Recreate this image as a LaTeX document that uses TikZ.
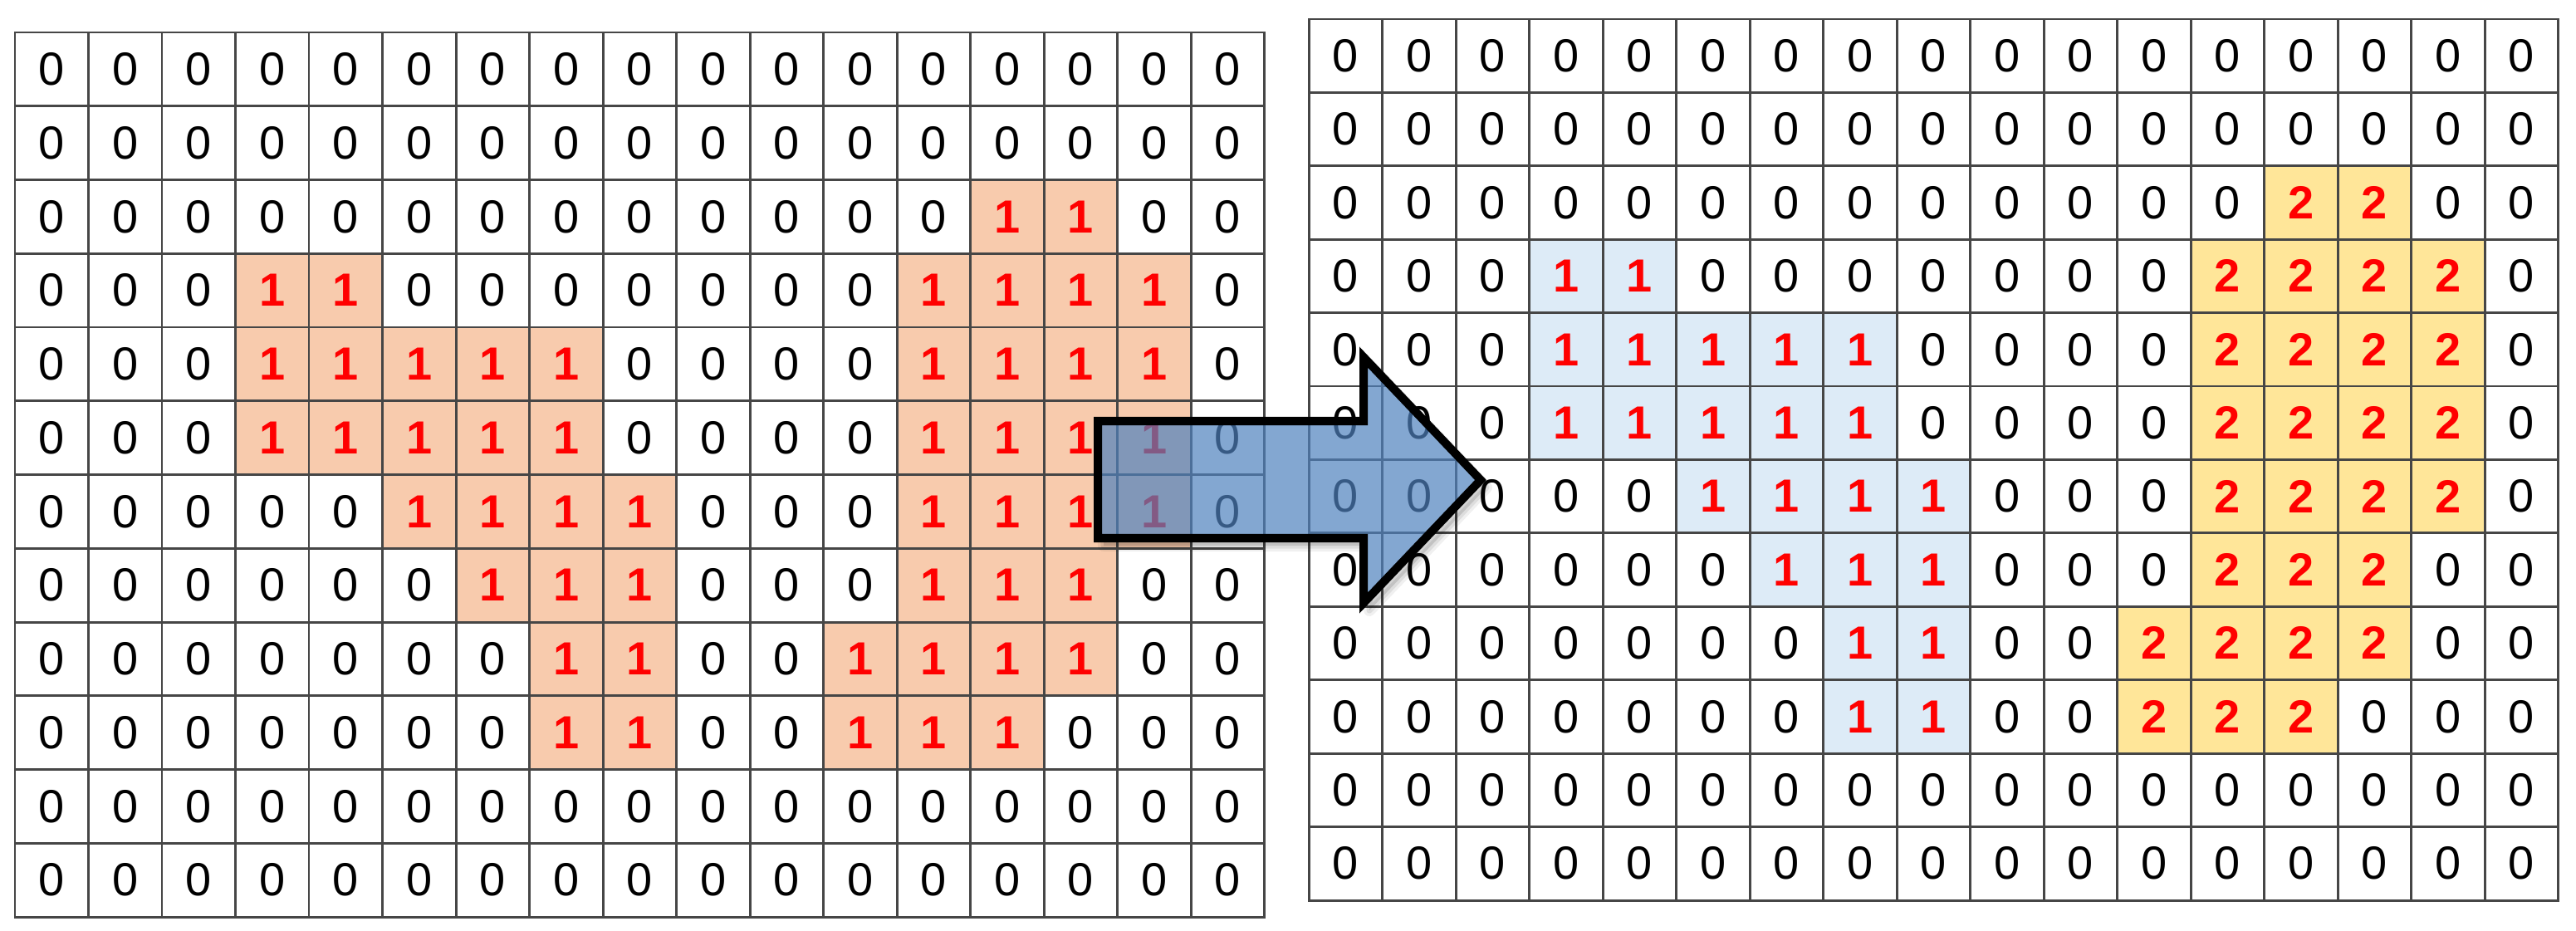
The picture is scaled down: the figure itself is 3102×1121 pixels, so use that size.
\documentclass[tikz,border=0pt]{standalone}
\usepackage{fontspec}
\setmainfont{Liberation Sans}
\definecolor{cellorange}{RGB}{248,203,173}
\definecolor{cellblue}{RGB}{221,235,247}
\definecolor{cellyellow}{RGB}{255,230,153}
\definecolor{gridgray}{RGB}{70,70,70}
\definecolor{arrowblue}{RGB}{79,129,189}
\definecolor{labelred}{RGB}{255,0,0}
\def\griddata{%
{0,0,0,0,0,0,0,0,0,0,0,0,0,0,0,0,0},%
{0,0,0,0,0,0,0,0,0,0,0,0,0,0,0,0,0},%
{0,0,0,0,0,0,0,0,0,0,0,0,0,2,2,0,0},%
{0,0,0,1,1,0,0,0,0,0,0,0,2,2,2,2,0},%
{0,0,0,1,1,1,1,1,0,0,0,0,2,2,2,2,0},%
{0,0,0,1,1,1,1,1,0,0,0,0,2,2,2,2,0},%
{0,0,0,0,0,1,1,1,1,0,0,0,2,2,2,2,0},%
{0,0,0,0,0,0,1,1,1,0,0,0,2,2,2,0,0},%
{0,0,0,0,0,0,0,1,1,0,0,2,2,2,2,0,0},%
{0,0,0,0,0,0,0,1,1,0,0,2,2,2,0,0,0},%
{0,0,0,0,0,0,0,0,0,0,0,0,0,0,0,0,0},%
{0,0,0,0,0,0,0,0,0,0,0,0,0,0,0,0,0}}
\begin{document}
\begin{tikzpicture}[x=0.01cm,y=-0.01cm,
  gridline/.style={draw=gridgray,line width=0.85pt},
  zerotxt/.style={inner sep=0pt,font=\fontsize{15.9}{19}\selectfont,text=black},
  labeltxt/.style={inner sep=0pt,font=\fontsize{15.9}{19}\selectfont\bfseries,text=labelred},
  bigarrow/.style={draw=black,line width=2.85pt,miter limit=10,fill=arrowblue,fill opacity=0.7},
  arrowshape/.style={insert path={(1322,507) -- (1642,507) -- (1642,430) -- (1783,578) -- (1642,726) -- (1642,648) -- (1322,648) -- cycle}}
]
\useasboundingbox (0,0) rectangle (3102,1121);
% cell fills
\foreach \row [count=\r from 0] in \griddata {
  \foreach \v [count=\c from 0] in \row {
    \ifnum\v>0
      \fill[cellorange] ({18+88.5*\c},{39+88.75*\r}) rectangle +(88.5,88.75);
      \ifnum\v=1
        \fill[cellblue] ({1576+88.5*\c},{23+88.4*\r}) rectangle +(88.5,88.4);
      \else
        \fill[cellyellow] ({1576+88.5*\c},{23+88.4*\r}) rectangle +(88.5,88.4);
      \fi
    \fi
  }
}
% grid lines
\foreach \c in {1,...,16} {
  \draw[gridline] ({18+88.5*\c},39) -- ({18+88.5*\c},1104);
  \draw[gridline] ({1576+88.5*\c},23) -- ({1576+88.5*\c},1084);
}
\foreach \r in {1,...,11} {
  \draw[gridline] (18,{39+88.75*\r}) -- (1522.5,{39+88.75*\r});
  \draw[gridline] (1576,{23+88.4*\r}) -- (3080.5,{23+88.4*\r});
}
\draw[gridline] (18,39) rectangle (1522.5,1104);
\draw[gridline] (1576,23) rectangle (3080.5,1084);
% numbers
\foreach \row [count=\r from 0] in \griddata {
  \foreach \v [count=\c from 0] in \row {
    \ifnum\v=0
      \node[zerotxt] (L-\r-\c) at ({18+88.5*(\c+0.5)},{39+88.75*(\r+0.5)}) {0};
      \node[zerotxt] (R-\r-\c) at ({1576+88.5*(\c+0.5)},{23+88.4*(\r+0.5)}) {0};
    \else
      \node[labeltxt] (L-\r-\c) at ({18+88.5*(\c+0.5)},{39+88.75*(\r+0.5)}) {1};
      \node[labeltxt] (R-\r-\c) at ({1576+88.5*(\c+0.5)},{23+88.4*(\r+0.5)}) {\v};
    \fi
  }
}
% arrow shadow
\begin{scope}[even odd rule]
  \clip (0,0) rectangle (3102,1121)
    (1322,507) -- (1642,507) -- (1642,430) -- (1783,578) -- (1642,726) -- (1642,648) -- (1322,648) -- cycle;
  \begin{scope}[shift={(7,9)}]
    \fill[black,opacity=0.12,arrowshape];
    \draw[black,opacity=0.06,line width=4pt,line join=round,arrowshape];
    \draw[black,opacity=0.08,line width=2pt,line join=round,arrowshape];
  \end{scope}
\end{scope}
% arrow
\path[bigarrow,arrowshape];
\end{tikzpicture}
\end{document}
